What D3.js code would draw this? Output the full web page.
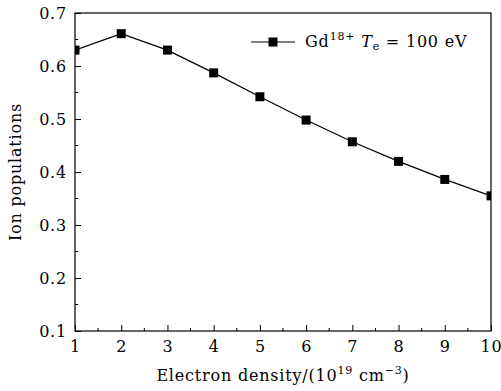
<!DOCTYPE html>
<html>
<head>
<meta charset="utf-8">
<script src="https://cdn.jsdelivr.net/npm/d3@7"></script>
<style>
  body { margin: 0; background: #fff; }
  svg { display: block; font-family: "DejaVu Serif", "Liberation Serif", serif; }
</style>
</head>
<body>
<div id="chart"></div>
<script>
// data
var density = [1, 2, 3, 4, 5, 6, 7, 8, 9, 10];
var population = [0.630, 0.661, 0.630, 0.587, 0.542, 0.498, 0.457, 0.420, 0.386, 0.355];
var xTicks = [1, 2, 3, 4, 5, 6, 7, 8, 9, 10];
var yTicks = [0.1, 0.2, 0.3, 0.4, 0.5, 0.6, 0.7];

var W = 501, H = 391;
var margin = {top: 13, right: 10, bottom: 60, left: 75};
var width = W - margin.left - margin.right,
    height = H - margin.top - margin.bottom;

var svg = d3.select("#chart").append("svg")
    .attr("width", W).attr("height", H);

var g = svg.append("g")
    .attr("transform", "translate(" + margin.left + "," + margin.top + ")");

var x = d3.scaleLinear().domain([1, 10]).range([0, width]);
var y = d3.scaleLinear().domain([0.1, 0.7]).range([height, 0]);

svg.append("defs").append("clipPath").attr("id", "clip")
    .append("rect").attr("width", width).attr("height", height);

// minor ticks
var xMinor = d3.range(1.5, 10, 1);
var yMinor = d3.range(0.15, 0.7, 0.1);
g.selectAll(".xminor").data(xMinor).enter().append("line")
    .attr("x1", function(d){ return x(d); }).attr("x2", function(d){ return x(d); })
    .attr("y1", height).attr("y2", height - 3)
    .attr("stroke", "#000").attr("stroke-width", 1);
g.selectAll(".yminor").data(yMinor).enter().append("line")
    .attr("y1", function(d){ return y(d); }).attr("y2", function(d){ return y(d); })
    .attr("x1", 0).attr("x2", 3)
    .attr("stroke", "#000").attr("stroke-width", 1);

// axes with inward ticks
var xAxis = d3.axisBottom(x).tickValues(xTicks).tickSizeInner(-6).tickSizeOuter(0).tickPadding(10)
    .tickFormat(d3.format("d"));
var yAxis = d3.axisLeft(y).tickValues(yTicks).tickSizeInner(-6).tickSizeOuter(0).tickPadding(8)
    .tickFormat(d3.format(".1f"));

var gx = g.append("g").attr("transform", "translate(0," + height + ")").call(xAxis);
var gy = g.append("g").call(yAxis);
[gx, gy].forEach(function(a){
  a.selectAll("text").attr("font-size", 16).attr("fill", "#000")
    .style("font-family", "DejaVu Serif, serif").style("letter-spacing", "0.8px");
  a.select(".domain").remove();
});

// frame
g.append("rect").attr("width", width).attr("height", height)
    .attr("fill", "none").attr("stroke", "#000").attr("stroke-width", 1.2);

// series
var pts = density.map(function(d, i){ return [d, population[i]]; });
var plot = g.append("g").attr("clip-path", "url(#clip)");
plot.append("path").datum(pts)
    .attr("d", d3.line().x(function(d){ return x(d[0]); }).y(function(d){ return y(d[1]); }))
    .attr("fill", "none").attr("stroke", "#000").attr("stroke-width", 1.2);
plot.selectAll(".m").data(pts).enter().append("rect")
    .attr("x", function(d){ return x(d[0]) - 4.5; })
    .attr("y", function(d){ return y(d[1]) - 4.5; })
    .attr("width", 9).attr("height", 9).attr("fill", "#000");

// legend
var leg = g.append("g").attr("transform", "translate(" + (251 - margin.left) + "," + (42 - margin.top) + ")");
leg.append("line").attr("x1", 0).attr("x2", 44).attr("y1", 0).attr("y2", 0)
    .attr("stroke", "#000").attr("stroke-width", 1.2);
leg.append("rect").attr("x", 17.5).attr("y", -4.5).attr("width", 9).attr("height", 9).attr("fill", "#000");
var lt = leg.append("text").attr("x", 54).attr("y", 5).attr("font-size", 16)
    .style("letter-spacing", "0.8px");
lt.append("tspan").text("Gd");
lt.append("tspan").attr("font-size", 11).attr("dy", -7).text("18+");
lt.append("tspan").attr("dy", 7).text(" ");
lt.append("tspan").attr("font-style", "italic").text("T");
lt.append("tspan").attr("font-size", 11).attr("dy", 3).text("e");
lt.append("tspan").attr("dy", -3).text(" = 100 eV");

// axis titles
var xt = svg.append("text").attr("x", margin.left + width / 2).attr("y", 381)
    .attr("text-anchor", "middle").attr("font-size", 16).style("letter-spacing", "0.8px");
xt.append("tspan").text("Electron density/(10");
xt.append("tspan").attr("font-size", 11).attr("dy", -7).text("19");
xt.append("tspan").attr("dy", 7).text(" cm");
xt.append("tspan").attr("font-size", 11).attr("dy", -7).text("\u22123");
xt.append("tspan").attr("dy", 7).text(")");

svg.append("text")
    .attr("transform", "translate(21," + (margin.top + height / 2) + ") rotate(-90)")
    .attr("text-anchor", "middle").attr("font-size", 16).style("letter-spacing", "0.8px")
    .text("Ion populations");
</script>
</body>
</html>
